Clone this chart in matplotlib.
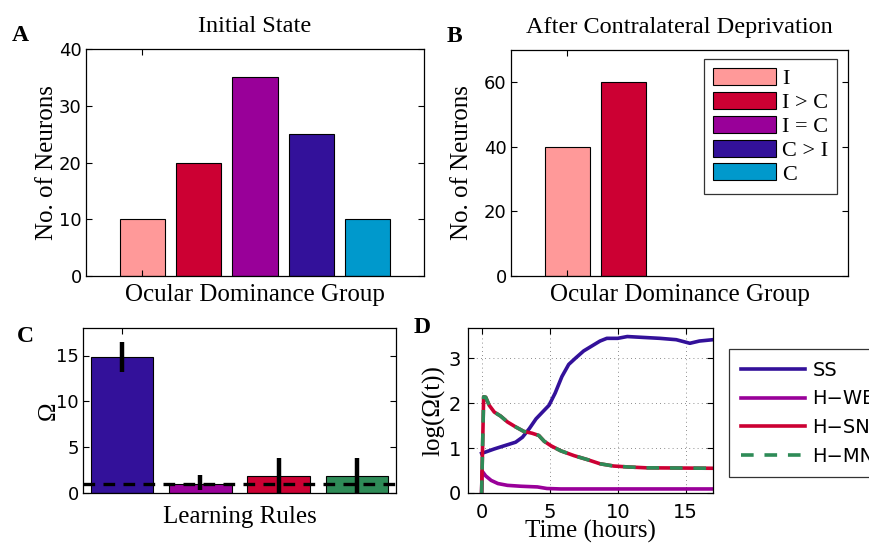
import matplotlib
matplotlib.use("Agg")
import matplotlib.pyplot as plt
from matplotlib.patches import Patch

# ---------------- data ----------------
groups = ["I", "I > C", "I = C", "C > I", "C"]
group_colors = ["#ff9999", "#cc0033", "#990099", "#33119a", "#0099cc"]
initial_counts = [10, 20, 35, 25, 10]
after_counts = [40, 60]

rules = ["SS", "H\u2212WB", "H\u2212SN", "H\u2212MN"]
rule_colors = ["#33119a", "#990099", "#cc0033", "#2e8b57"]
omega_mean = [14.8, 1.0, 1.9, 1.9]
omega_lo = [13.2, 0.3, 0.0, 0.0]
omega_hi = [16.5, 1.95, 3.8, 3.8]
omega_ref = 1.0

t_ss = [0.0, 0.93, 1.66, 2.5, 3.0, 3.5, 4.0, 4.6, 4.95, 5.4, 5.9, 6.4, 6.9, 7.5,
        8.1, 8.7, 9.2, 10.0, 10.7, 11.9, 13.1, 14.3, 15.3, 16.0, 17.0]
y_ss = [0.88, 0.98, 1.05, 1.13, 1.24, 1.43, 1.65, 1.84, 1.95, 2.22, 2.59, 2.86, 3.0,
        3.16, 3.27, 3.38, 3.44, 3.44, 3.48, 3.46, 3.44, 3.41, 3.33, 3.38, 3.41]

t_wb = [0.0, 0.03, 0.3, 0.7, 1.2, 1.9, 2.9, 4.1, 4.8, 5.8, 8.0, 12.0, 17.0]
y_wb = [0.0, 0.49, 0.38, 0.28, 0.21, 0.17, 0.15, 0.135, 0.1, 0.09, 0.09, 0.09, 0.09]

t_sn = [0.0, 0.15, 0.3, 0.56, 0.93, 1.4, 1.9, 2.5, 3.1, 3.7, 4.2, 4.6, 5.1, 5.8,
        6.8, 7.8, 8.7, 9.7, 10.7, 12.1, 14.3, 17.0]
y_sn = [0.0, 2.14, 2.13, 1.95, 1.8, 1.71, 1.58, 1.47, 1.37, 1.33, 1.28, 1.15, 1.05,
        0.94, 0.83, 0.74, 0.65, 0.6, 0.58, 0.56, 0.556, 0.55]
t_mn = t_sn
y_mn = y_sn

# ---------------- style ----------------
SERIF = "Liberation Serif"
TICKFONT = "DejaVu Sans"
plt.rcParams["font.family"] = TICKFONT
plt.rcParams["font.size"] = 13

fig = plt.figure(figsize=(8.7, 5.47), dpi=100)
W, H = 870.0, 547.0


def axes_px(l, t, r, b):
    return fig.add_axes([l / W, 1 - b / H, (r - l) / W, (b - t) / H])


def style(ax, size=13, xpad=3, ypad=3):
    ax.tick_params(direction="in", which="both", top=True, right=True,
                   labelsize=size, length=4, width=0.8)
    ax.tick_params(axis="x", pad=xpad)
    ax.tick_params(axis="y", pad=ypad)
    for s in ax.spines.values():
        s.set_linewidth(0.9)


lab_kw = dict(fontfamily=SERIF, fontsize=18)
title_kw = dict(fontfamily=SERIF, fontsize=17.5, pad=12)

# ---------------- Panel A ----------------
axA = axes_px(86, 49, 424, 276)
xs = list(range(1, len(initial_counts) + 1))
axA.bar(xs, initial_counts, width=0.8, color=group_colors[:len(initial_counts)],
        edgecolor="black", linewidth=0.8)
axA.set_xlim(0, 6)
axA.set_ylim(0, 40)
axA.set_yticks([0, 10, 20, 30, 40])
axA.set_xticks([1])
axA.set_xticklabels([""])
style(axA)
axA.set_ylabel("No. of Neurons", **lab_kw)
axA.yaxis.set_label_coords(-0.083, 0.5)
axA.set_xlabel("Ocular Dominance Group", **lab_kw)
axA.xaxis.set_label_coords(0.5, -0.035)
axA.set_title("Initial State", **title_kw)

# ---------------- Panel B ----------------
axB = axes_px(511, 50, 848, 276)
xb = list(range(1, len(after_counts) + 1))
axB.bar(xb, after_counts, width=0.8, color=group_colors[:len(after_counts)],
        edgecolor="black", linewidth=0.8)
axB.set_xlim(0, 6)
axB.set_ylim(0, 70)
axB.set_yticks([0, 20, 40, 60])
axB.set_xticks([1])
axB.set_xticklabels([""])
style(axB)
axB.set_ylabel("No. of Neurons", **lab_kw)
axB.yaxis.set_label_coords(-0.113, 0.5)
axB.set_xlabel("Ocular Dominance Group", **lab_kw)
axB.xaxis.set_label_coords(0.5, -0.035)
axB.set_title("After Contralateral Deprivation", **title_kw)
handlesB = [Patch(facecolor=c, edgecolor="black", linewidth=0.8) for c in group_colors]
legB = axB.legend(handlesB, groups, loc="upper left",
                  bbox_to_anchor=(704 / W, 1 - 59 / H), bbox_transform=fig.transFigure,
                  prop={"family": SERIF, "size": 16}, frameon=True, fancybox=False,
                  edgecolor="black", handlelength=2.85, handleheight=0.8,
                  labelspacing=0.12, handletextpad=0.25, borderpad=0.4,
                  borderaxespad=0)
legB.get_frame().set_linewidth(0.9)

# ---------------- Panel C ----------------
axC = axes_px(83, 328, 396, 493)
xc = list(range(1, len(omega_mean) + 1))
axC.bar(xc, omega_mean, width=0.8, color=rule_colors, edgecolor="black",
        linewidth=0.8, zorder=2)
axC.vlines(xc, omega_lo, omega_hi, colors="black", linewidth=3.2, zorder=4)
axC.axhline(omega_ref, color="black", linestyle=(0, (3.5, 2.5)), linewidth=2.4, zorder=3)
axC.set_xlim(0.5, 4.5)
axC.set_ylim(0, 18)
axC.set_yticks([0, 5, 10, 15])
axC.set_xticks([1])
axC.set_xticklabels([""])
style(axC)
axC.set_ylabel("\u03a9", **lab_kw)
axC.yaxis.set_label_coords(-0.075, 0.5)
axC.set_xlabel("Learning Rules", **lab_kw)
axC.xaxis.set_label_coords(0.5, -0.08)

# ---------------- Panel D ----------------
axD = axes_px(468, 328, 713, 493)
lw = 2.6
axD.plot(t_ss, y_ss, color=rule_colors[0], linewidth=lw, label=rules[0])
axD.plot(t_wb, y_wb, color=rule_colors[1], linewidth=lw, label=rules[1])
axD.plot(t_sn, y_sn, color=rule_colors[2], linewidth=lw, label=rules[2])
axD.plot(t_mn, y_mn, color=rule_colors[3], linewidth=lw, label=rules[3],
         linestyle=(0, (3.5, 3.0)))
axD.set_xlim(-1, 17)
axD.set_ylim(0, 3.67)
axD.set_xticks([0, 5, 10, 15])
axD.set_yticks([0, 1, 2, 3])
axD.grid(True, linestyle=(0, (1, 4)), color="black", linewidth=0.6, alpha=0.6)
style(axD, size=14, xpad=7, ypad=5)
axD.set_ylabel("log(\u03a9(t))", **lab_kw)
axD.yaxis.set_label_coords(-0.09, 0.5)
axD.set_xlabel("Time (hours)", **lab_kw)
axD.xaxis.set_label_coords(0.5, -0.165)
legD = axD.legend(loc="upper left", bbox_to_anchor=(729 / W, 1 - 349 / H),
                  bbox_transform=fig.transFigure,
                  prop={"family": TICKFONT, "size": 14}, frameon=True, fancybox=False,
                  edgecolor="black", handlelength=3.3, handletextpad=0.4,
                  labelspacing=0.5, borderpad=0.6, borderaxespad=0)
legD.get_frame().set_linewidth(0.9)

# ---------------- panel letters ----------------
for letter, (x, y) in zip("ABCD", [(12, 41), (447, 42), (17, 342), (414, 333)]):
    fig.text(x / W, 1 - y / H, letter, fontfamily=SERIF, fontweight="bold",
             fontsize=17, ha="left", va="baseline")

fig.savefig("out.png", dpi=100)
